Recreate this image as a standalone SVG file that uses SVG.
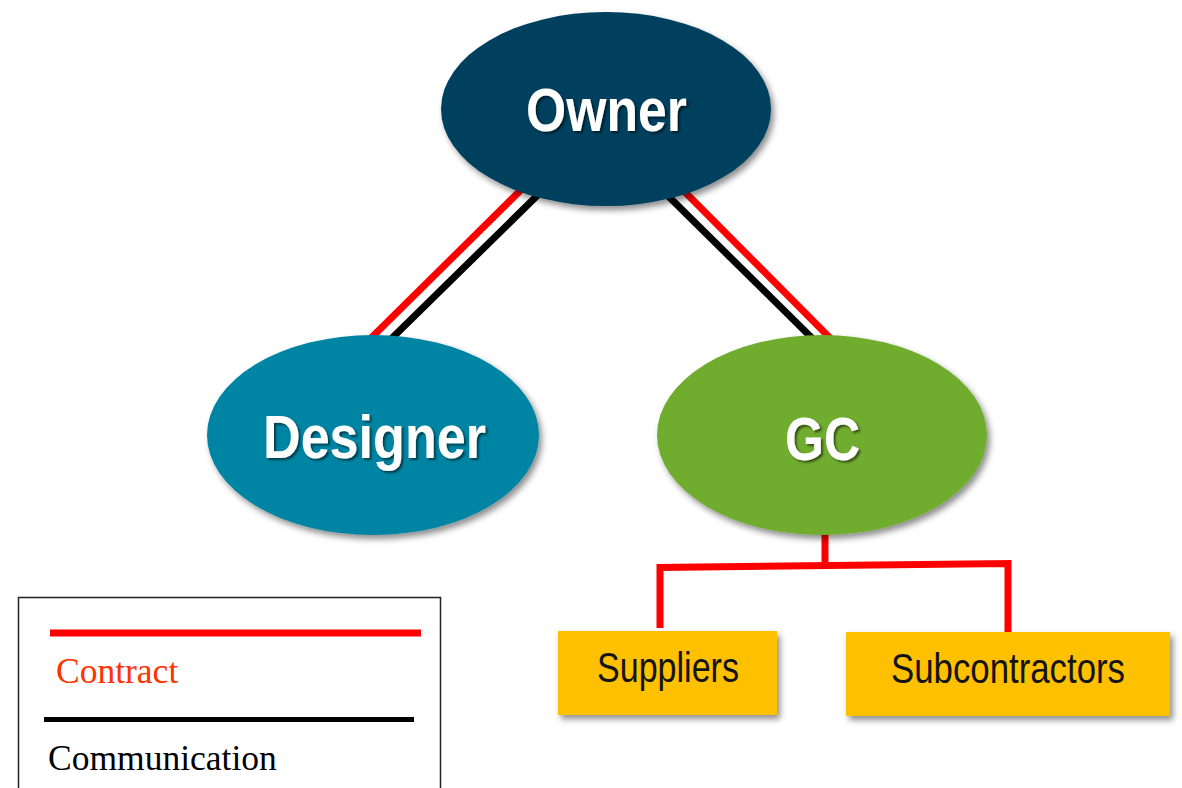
<svg xmlns="http://www.w3.org/2000/svg" width="1182" height="788" viewBox="0 0 1182 788">
  <defs>
    <filter id="shadow" x="-10%" y="-10%" width="125%" height="130%">
      <feDropShadow dx="3" dy="4" stdDeviation="3" flood-color="#000" flood-opacity="0.45"/>
    </filter>
    <filter id="textShadow" x="-10%" y="-20%" width="125%" height="150%">
      <feDropShadow dx="2" dy="2" stdDeviation="1.2" flood-color="#000" flood-opacity="0.55"/>
    </filter>
  </defs>
  <style>
    .node-label { font-family: "Liberation Sans", Arial, sans-serif; font-weight: bold; font-size: 61px; fill: #ffffff; }
    .box-label { font-family: "Liberation Sans", Arial, sans-serif; font-size: 42px; fill: #141414; }
    .box { fill: #FFC000; }
    .contract { stroke: #FF0000; stroke-width: 7; fill: none; }
    .comm { stroke: #000000; stroke-width: 7; fill: none; }
    .legend-text { font-family: "Liberation Serif", "Times New Roman", serif; font-size: 35.5px; }
  </style>
  <rect width="1182" height="788" fill="#ffffff"/>

  <!-- connectors: contract (red) and communication (black) -->
  <g id="connectors">
    <line class="contract" x1="531" y1="180" x2="364" y2="345"/>
    <line class="comm" x1="548" y1="185" x2="385" y2="345"/>
    <line class="comm" x1="657" y1="185" x2="819" y2="345"/>
    <line class="contract" x1="675" y1="182" x2="837" y2="345"/>
    <path class="contract" d="M825,530 V566" stroke-width="8"/>
    <path class="contract" d="M660,628 V567.5 L1008,563.5 V632" stroke-width="8" stroke-linejoin="miter"/>
  </g>

  <g id="owner">
    <ellipse cx="606" cy="109" rx="165" ry="97" fill="#033F5E" filter="url(#shadow)"/>
    <text class="node-label" x="526" y="131" textLength="161" lengthAdjust="spacingAndGlyphs" filter="url(#textShadow)">Owner</text>
  </g>

  <g id="designer">
    <ellipse cx="373" cy="435" rx="166" ry="100" fill="#0284A3" filter="url(#shadow)"/>
    <text class="node-label" x="263" y="458" textLength="223" lengthAdjust="spacingAndGlyphs" filter="url(#textShadow)">Designer</text>
  </g>

  <g id="gc">
    <ellipse cx="822" cy="435" rx="165" ry="100" fill="#6FAC2F" filter="url(#shadow)"/>
    <text class="node-label" x="785" y="460" textLength="75" lengthAdjust="spacingAndGlyphs" filter="url(#textShadow)">GC</text>
  </g>

  <g id="suppliers">
    <rect class="box" x="558" y="631" width="219" height="84" filter="url(#shadow)"/>
    <text class="box-label" x="597" y="682" textLength="142" lengthAdjust="spacingAndGlyphs">Suppliers</text>
  </g>

  <g id="subcontractors">
    <rect class="box" x="846" y="632" width="324" height="84" filter="url(#shadow)"/>
    <text class="box-label" x="891" y="683" textLength="234" lengthAdjust="spacingAndGlyphs">Subcontractors</text>
  </g>

  <!-- legend -->
  <g id="legend">
    <rect x="18.5" y="597.5" width="422" height="200" fill="#ffffff" stroke="#222222" stroke-width="1.5"/>
    <line x1="50" y1="633" x2="421" y2="633" stroke="#FF0000" stroke-width="7"/>
    <text class="legend-text" x="56" y="683" fill="#FF3300">Contract</text>
    <line x1="44" y1="719.5" x2="414" y2="719.5" stroke="#000000" stroke-width="5"/>
    <text class="legend-text" x="48" y="770" fill="#000000">Communication</text>
  </g>
</svg>
